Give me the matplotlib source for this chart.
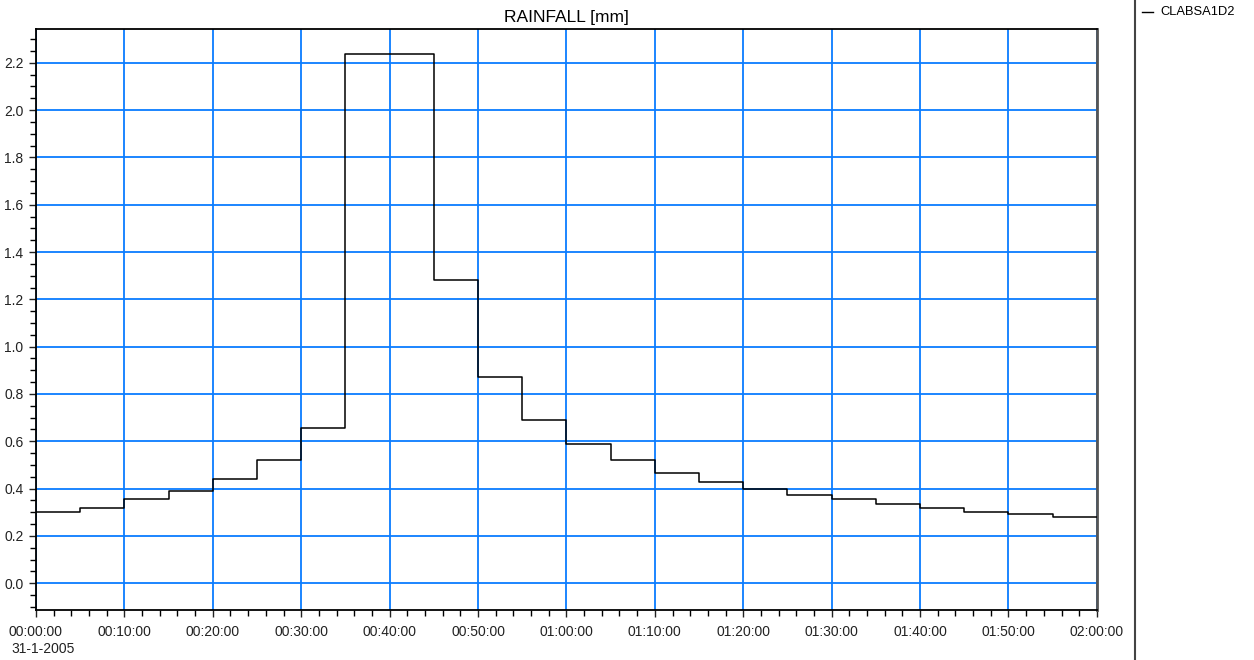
import matplotlib
matplotlib.use('Agg')
import matplotlib.pyplot as plt
from matplotlib.ticker import MultipleLocator, FuncFormatter

# rainfall per 5 minute step, 31-1-2005 00:00 - 02:00
minutes = [0, 5, 10, 15, 20, 25, 30, 35, 40, 45, 50, 55,
           60, 65, 70, 75, 80, 85, 90, 95, 100, 105, 110, 115, 120]
rain = [0.30, 0.32, 0.355, 0.39, 0.44, 0.52, 0.655, 2.235, 2.235, 1.28, 0.87, 0.69,
        0.59, 0.52, 0.467, 0.43, 0.398, 0.372, 0.355, 0.334, 0.317, 0.302, 0.291, 0.281]
series_name = 'CLABSA1D2'
date_label = '31-1-2005'

plt.rcParams['font.family'] = ['Liberation Sans', 'DejaVu Sans']

fig = plt.figure(figsize=(12.54, 6.6), dpi=100)
ax = fig.add_axes([0.0287, 0.0758, 0.846, 0.880])

ax.step(minutes, rain + [rain[-1]], where='post', color='black', lw=1.1, zorder=3)

ax.set_xlim(0, 120)
ax.set_ylim(-0.113, 2.342)
ax.xaxis.set_major_locator(MultipleLocator(10))
ax.xaxis.set_minor_locator(MultipleLocator(2))
ax.yaxis.set_major_locator(MultipleLocator(0.2))
ax.yaxis.set_minor_locator(MultipleLocator(0.05))

def fmt_time(m, pos):
    m = int(round(m))
    return '%02d:%02d:00' % (m // 60, m % 60)

ax.xaxis.set_major_formatter(FuncFormatter(fmt_time))
ax.yaxis.set_major_formatter(FuncFormatter(lambda v, p: '%.1f' % v))

ax.grid(True, which='major', color='#0A7CFF', lw=1.3, zorder=1)
ax.tick_params(which='major', length=5, width=1, labelsize=10, colors='#222222')
ax.tick_params(which='minor', length=4, width=1)
ax.tick_params(axis='x', which='major', pad=6)
ax.tick_params(axis='y', which='major', pad=4)
for s in ax.spines.values():
    s.set_linewidth(1.3)
    s.set_color('black')
ax.spines['right'].set_color('#555555')
ax.spines['right'].set_linewidth(2)

ax.set_title('RAINFALL [mm]', fontsize=12.5, pad=5)

fig.text(0.0093, 0.017, date_label, fontsize=10, ha='left', va='center', color='#222222')

# legend panel on the right
fig.add_artist(plt.Line2D([0.905, 0.905], [0, 1], color='#444444', lw=1.5))
fig.add_artist(plt.Line2D([0.9107, 0.9195], [0.982, 0.982], color='black', lw=1))
fig.text(0.925, 0.982, series_name, fontsize=9.3, ha='left', va='center')

fig.savefig('out.png', dpi=100)
